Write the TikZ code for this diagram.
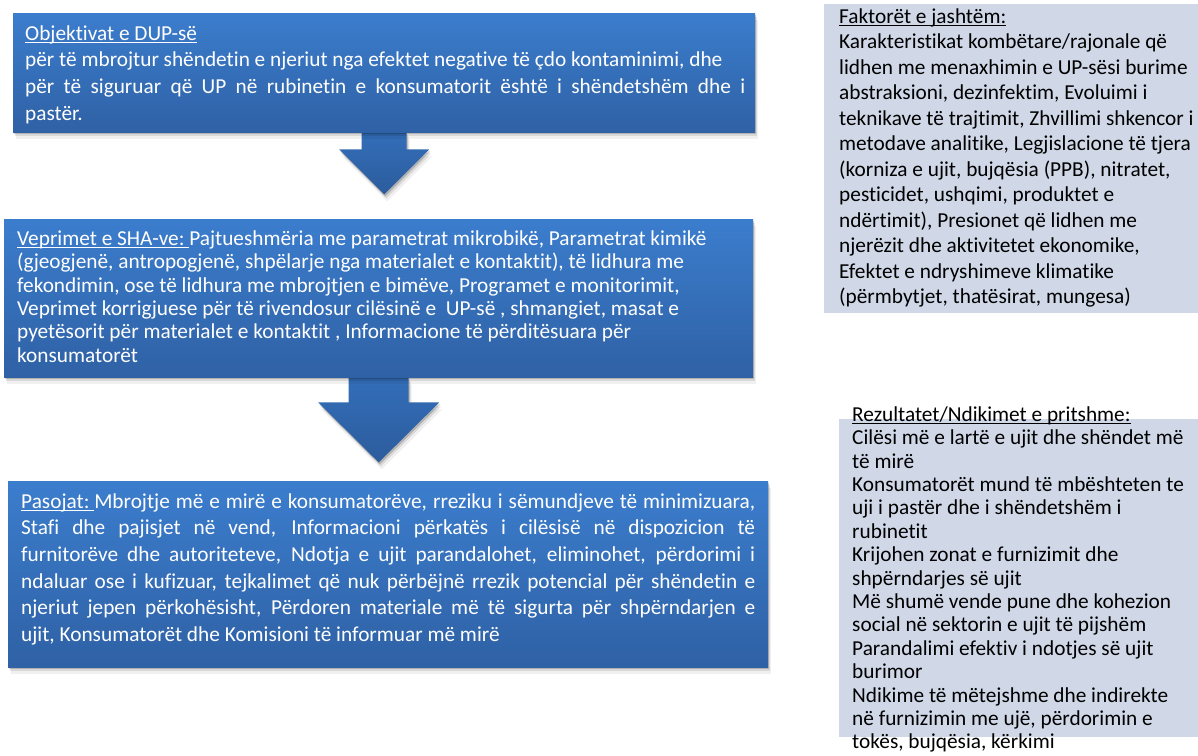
\documentclass[tikz,border=0pt]{standalone}
\usepackage{fontspec}
\newfontfamily\calfont[Ligatures=NoCommon]{Carlito}
\usetikzlibrary{shadows,backgrounds}
\definecolor{boxtop}{RGB}{59,125,205}
\definecolor{boxbot}{RGB}{47,97,165}
\definecolor{arrtop}{RGB}{51,110,185}
\definecolor{arrbot}{RGB}{44,92,156}
\definecolor{greyfill}{RGB}{208,216,232}
\newcommand\ulx[1]{\setbox0\hbox{#1}\rlap{\rule[-2.4pt]{\wd0}{1.1pt}}\box0}
\newcommand\fst{\spaceskip=0pt\xspaceskip=0pt\rule{0pt}{18pt}}
\newcommand\jl[2]{\makebox[#1][s]{\spaceskip=0pt\xspaceskip=0pt #2}}
\tikzset{
  softshadow/.style={
    drop shadow={shadow xshift=1pt,shadow yshift=-2pt,opacity=.18,fill=black},
    drop shadow={shadow xshift=2pt,shadow yshift=-4pt,opacity=.10,fill=black},
    drop shadow={shadow xshift=3pt,shadow yshift=-7pt,opacity=.06,fill=black}},
  bluebox/.style={rectangle,anchor=north west,inner sep=0pt,draw=none,
    top color=boxtop,bottom color=boxbot,softshadow},
  blockarrow/.style={top color=arrtop,bottom color=arrbot,draw=none,softshadow},
  greybox/.style={rectangle,anchor=north west,inner sep=0pt,draw=none,fill=greyfill},
  bluetext/.style={anchor=north west,inner sep=0pt,text=white,align=left,
    font=\calfont\fontsize{21.3}{26.6}\selectfont},
  greytext/.style={anchor=north west,inner sep=0pt,text=black,align=left,
    font=\calfont\fontsize{21.3}{25.5}\selectfont}
}
\begin{document}
\begin{tikzpicture}[x=1pt,y=-1pt]
\useasboundingbox (0,0) rectangle (1198,755);
% blue boxes
\node[bluebox,minimum width=742pt,minimum height=119pt] (b1) at (13,13) {};
\node[bluebox,minimum width=749pt,minimum height=158pt] (b2) at (4,219) {};
\node[bluebox,minimum width=760pt,minimum height=186pt] (b3) at (8,481) {};
% block arrows
\begin{scope}[on background layer]
\path[blockarrow] ([xshift=-22.5pt]b1.south) -- ++(45,0) -- ++(0,17) -- ++(22.5,0)
  -- ++(-45,45) -- ++(-45,-45) -- ++(22.5,0) -- cycle;
\path[blockarrow] ([xshift=-30pt]b2.south) -- ++(60,0) -- ++(0,25) -- ++(30.5,0)
  -- ++(-60.5,60) -- ++(-60.5,-60) -- ++(30.5,0) -- cycle;
\end{scope}
% texts of blue boxes
\node[bluetext,text width=760pt] (t1) at ([shift={(12,9)}]b1.north west) {%
\fst\ulx{Objektivat e DUP-së}\\
për të mbrojtur shëndetin e njeriut nga efektet negative të çdo kontaminimi, dhe\\
\jl{720pt}{për të siguruar që UP në rubinetin e konsumatorit është i shëndetshëm dhe i}\\
pastër.};
\node[bluetext,text width=760pt,font=\calfont\fontsize{21.3}{23.4}\selectfont] (t2) at ([shift={(13,8)}]b2.north west) {%
\fst\ulx{Veprimet e SHA-ve:\ }Pajtueshmëria me parametrat mikrobikë, Parametrat kimikë\\
(gjeogjenë, antropogjenë, shpëlarje nga materialet e kontaktit), të lidhura me\\
fekondimin, ose të lidhura me mbrojtjen e bimëve, Programet e monitorimit,\\
Veprimet korrigjuese për të rivendosur cilësinë e\ \ UP-së , shmangiet, masat e\\
pyetësorit për materialet e kontaktit , Informacione të përditësuara për\\
konsumatorët};
\node[bluetext,text width=760pt] (t3) at ([shift={(13,9)}]b3.north west) {%
\fst\jl{734pt}{\ulx{Pasojat:\ }Mbrojtje më e mirë e konsumatorëve, rreziku i sëmundjeve të minimizuara,}\\
\jl{734pt}{Stafi dhe pajisjet në vend, Informacioni përkatës i cilësisë në dispozicion të}\\
\jl{734pt}{furnitorëve dhe autoriteteve, Ndotja e ujit parandalohet, eliminohet, përdorimi i}\\
\jl{734pt}{ndaluar ose i kufizuar, tejkalimet që nuk përbëjnë rrezik potencial për shëndetin e}\\
\jl{734pt}{njeriut jepen përkohësisht, Përdoren materiale më të sigurta për shpërndarjen e}\\
ujit, Konsumatorët dhe Komisioni të informuar më mirë};
% grey boxes
\node[greybox,minimum width=374pt,minimum height=309pt] (g1) at (824,4) {};
\node[greybox,minimum width=359pt,minimum height=318pt] (g2) at (839,419) {};
\node[greytext,text width=420pt] (gt1) at ([shift={(15,1)}]g1.north west) {%
\fst\ulx{Faktorët e jashtëm:}\\
Karakteristikat kombëtare/rajonale që\\
lidhen me menaxhimin e UP-sësi burime\\
abstraksioni, dezinfektim, Evoluimi i\\
teknikave të trajtimit, Zhvillimi shkencor i\\
metodave analitike, Legjislacione të tjera\\
(korniza e ujit, bujqësia (PPB), nitratet,\\
pesticidet, ushqimi, produktet e\\
ndërtimit), Presionet që lidhen me\\
njerëzit dhe aktivitetet ekonomike,\\
Efektet e ndryshimeve klimatike\\
(përmbytjet, thatësirat, mungesa)};
\node[greytext,text width=420pt,font=\calfont\fontsize{21.3}{23.4}\selectfont] (gt2) at ([shift={(13,-16)}]g2.north west) {%
\fst\ulx{Rezultatet/Ndikimet e pritshme:}\\
Cilësi më e lartë e ujit dhe shëndet më\\
të mirë\\
Konsumatorët mund të mbështeten te\\
uji i pastër dhe i shëndetshëm i\\
rubinetit\\
Krijohen zonat e furnizimit dhe\\
shpërndarjes së ujit\\
Më shumë vende pune dhe kohezion\\
social në sektorin e ujit të pijshëm\\
Parandalimi efektiv i ndotjes së ujit\\
burimor\\
Ndikime të mëtejshme dhe indirekte\\
në furnizimin me ujë, përdorimin e\\
tokës, bujqësia, kërkimi};
\end{tikzpicture}
\end{document}
